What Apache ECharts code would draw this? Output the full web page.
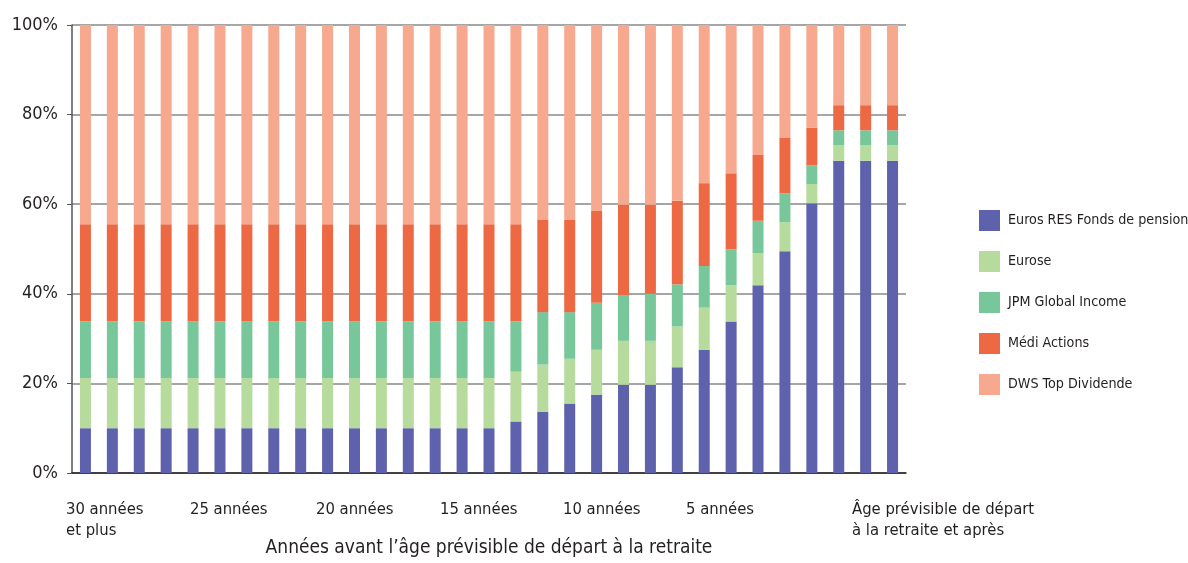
<!DOCTYPE html>
<html>
<head>
<meta charset="utf-8">
<style>
  html, body { margin: 0; padding: 0; background: #fff; }
  #chart { width: 1188px; height: 563px; }
</style>
<script src="https://cdn.jsdelivr.net/npm/echarts@6/dist/echarts.min.js"></script>
</head>
<body>
<div id="chart"></div>
<script>
// years before retirement, 30 and more down to 0
var years = []
for (var y = 30; y >= 0; y--) years.push(String(y))

// allocation in % per bar
var eurosRes = [10, 10, 10, 10, 10, 10, 10, 10, 10, 10, 10, 10, 10, 10, 10, 10,
  11.5, 13.7, 15.5, 17.5, 19.7, 19.7, 23.6, 27.5, 33.8, 41.9, 49.5, 60.2, 69.7, 69.7, 69.7]
var eurose = [11.2, 11.2, 11.2, 11.2, 11.2, 11.2, 11.2, 11.2, 11.2, 11.2, 11.2, 11.2, 11.2, 11.2, 11.2, 11.2,
  11.1, 10.5, 10.0, 10.0, 9.8, 9.8, 9.1, 9.4, 8.1, 7.2, 6.5, 4.3, 3.5, 3.5, 3.5]
var jpm = [12.6, 12.6, 12.6, 12.6, 12.6, 12.6, 12.6, 12.6, 12.6, 12.6, 12.6, 12.6, 12.6, 12.6, 12.6, 12.6,
  11.2, 11.7, 10.4, 10.5, 10.2, 10.5, 9.4, 9.3, 8.0, 7.2, 6.4, 4.2, 3.3, 3.3, 3.3]
var medi = [21.7, 21.7, 21.7, 21.7, 21.7, 21.7, 21.7, 21.7, 21.7, 21.7, 21.7, 21.7, 21.7, 21.7, 21.7, 21.7,
  21.7, 20.6, 20.6, 20.6, 20.2, 19.9, 18.7, 18.5, 17.0, 14.7, 12.4, 8.4, 5.6, 5.6, 5.6]
var dws = [44.5, 44.5, 44.5, 44.5, 44.5, 44.5, 44.5, 44.5, 44.5, 44.5, 44.5, 44.5, 44.5, 44.5, 44.5, 44.5,
  44.5, 43.5, 43.5, 41.4, 40.1, 40.1, 39.2, 35.3, 33.1, 29.0, 25.2, 22.9, 17.9, 17.9, 17.9]

var seriesNames = ['Euros RES Fonds de pension', 'Eurose', 'JPM Global Income', 'Médi Actions', 'DWS Top Dividende']
var colors = ['#5e62ad', '#b6db9d', '#78c79b', '#ec6944', '#f7a98f']

// x labels drawn as free text, as in the original layout
var xLabels = ['30 années\net plus', '25 années', '20 années', '15 années', '10 années', '5 années',
  'Âge prévisible de départ\nà la retraite et après']
var xLabelLeft = [66, 190, 316, 440, 563, 686, 852]

var font = '"DejaVu Sans Condensed", "Liberation Sans Narrow", sans-serif'
var textColor = '#231f20'

var dom = document.getElementById('chart')
var chart = echarts.init(dom)

var allData = [eurosRes, eurose, jpm, medi, dws]
var series = seriesNames.map(function (name, i) {
  return {
    name: name,
    type: 'bar',
    stack: 'total',
    barWidth: 11,
    data: allData[i],
    itemStyle: { color: colors[i] }
  }
})

var graphic = xLabels.map(function (txt, i) {
  return {
    type: 'text',
    left: xLabelLeft[i],
    top: 499,
    style: {
      text: txt,
      font: '16.5px ' + font,
      fill: textColor,
      lineHeight: 21
    }
  }
})

var option = {
  animation: false,
  textStyle: { fontFamily: font },
  grid: { left: 72, right: 282, top: 25, bottom: 76 },
  legend: {
    orient: 'vertical',
    left: 974,
    top: 205,
    itemWidth: 21,
    itemHeight: 21,
    itemGap: 20,
    icon: 'rect',
    data: seriesNames,
    textStyle: { fontSize: 14.2, color: textColor, fontFamily: font, padding: [0, 0, 0, 3] }
  },
  xAxis: {
    type: 'category',
    data: years,
    axisLine: { lineStyle: { color: '#231f20', width: 1.5 } },
    axisTick: { show: false },
    axisLabel: { show: false },
    name: 'Années avant l’âge prévisible de départ à la retraite',
    nameLocation: 'middle',
    nameGap: 66,
    nameTextStyle: { fontSize: 19, color: textColor, fontFamily: font }
  },
  yAxis: {
    type: 'value',
    min: 0,
    max: 100,
    interval: 20,
    axisLine: { show: true, lineStyle: { color: '#555', width: 1.5 } },
    axisTick: { show: true, length: 5, lineStyle: { color: '#555' } },
    splitLine: { lineStyle: { color: '#888', width: 1.5 } },
    axisLabel: {
      formatter: '{value}%',
      fontSize: 18,
      color: textColor,
      fontFamily: font,
      margin: 14
    }
  },
  graphic: graphic,
  series: series
}

chart.setOption(option)
</script>
</body>
</html>
